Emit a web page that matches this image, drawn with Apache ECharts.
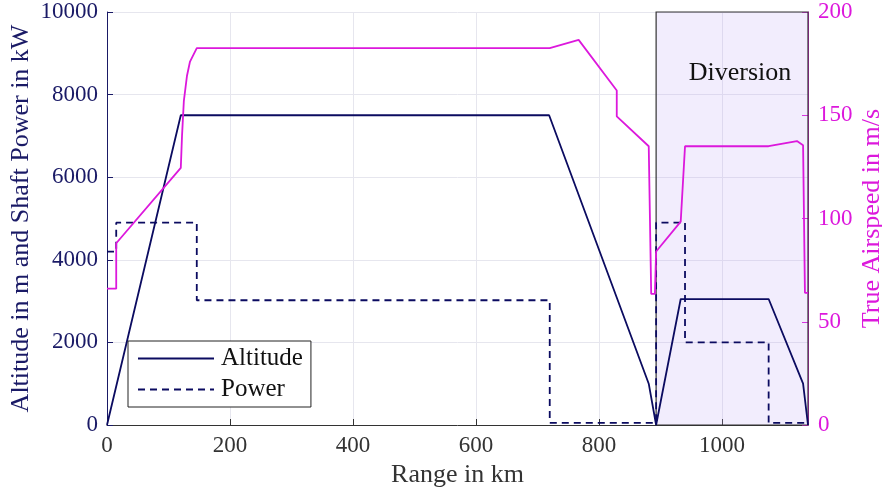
<!DOCTYPE html>
<html style="height: 100%">
<head>
<meta charset="utf-8">
<script src="https://cdn.jsdelivr.net/npm/echarts@6/dist/echarts.min.js"></script>
<title>Mission profile</title>
</head>
<body style="height: 100%; margin: 0; background: #fff">
<div id="container" style="width: 882px; height: 490px"></div>
<script type="text/javascript">

// range in km and the values
const altitudeRange = [0, 120, 719, 881, 893, 933, 1076, 1132, 1140];
const altitudeValues = [0, 7500, 7500, 1000, 0, 3050, 3050, 1000, 0];

const powerRange = [0, 15, 15, 146, 146, 720, 720, 893, 893, 940, 940, 1076, 1076, 1140];
const powerValues = [4200, 4200, 4900, 4900, 3020, 3020, 50, 50, 4900, 4900, 2000, 2000, 50, 50];

const speedRange = [0, 15, 15, 120, 122, 125, 130, 135, 146, 720, 767, 829, 829, 881, 885, 891, 893, 893, 933, 940, 1076, 1122, 1132, 1135, 1140];
const speedValues = [66, 66, 88, 124.5, 140, 157, 169, 176, 182.5, 182.5, 186.5, 162, 149.5, 135, 63.5, 63.5, 63.5, 84, 98.5, 135, 135, 137.5, 135.5, 64, 64];

const diversionStart = 893;
const rangeMax = 1140;

const navy = '#0b0b60';
const axisNavy = '#1a1a66';
const magenta = '#dc18dc';
const serif = '"Liberation Serif", "DejaVu Serif", serif';

function pairs(xs, ys) {
  return xs.map(function (x, i) { return [x, ys[i]]; });
}

function plain(v) {
  return String(v);
}

let chart = echarts.init(document.getElementById('container'));

chart.setOption({
  animation: false,
  textStyle: { fontFamily: serif },
  grid: { left: 107, right: 74, top: 12, bottom: 65, containLabel: false, outerBoundsMode: 'none' },
  legend: {
    data: ['Altitude', 'Power'],
    orient: 'vertical',
    left: 128,
    top: 341,
    itemWidth: 76,
    itemHeight: 14,
    itemGap: 6,
    padding: [5, 8, 5, 9],
    borderColor: '#222',
    borderWidth: 1,
    borderRadius: 0,
    backgroundColor: '#fff',
    itemStyle: { opacity: 0 },
    textStyle: { fontFamily: serif, fontSize: 25, color: '#111', padding: [0, 0, 0, 2] }
  },
  xAxis: {
    type: 'value',
    min: 0,
    max: rangeMax,
    interval: 200,
    name: 'Range in km',
    nameLocation: 'middle',
    nameGap: 36,
    nameTextStyle: { fontFamily: serif, fontSize: 26, color: '#333' },
    axisLine: { lineStyle: { color: '#333' } },
    axisTick: { inside: true, length: 6, lineStyle: { color: '#333' } },
    axisLabel: { fontFamily: serif, fontSize: 23, color: '#333', margin: 9, showMaxLabel: false, formatter: plain },
    splitLine: { show: true, lineStyle: { color: '#e6e6ee' } }
  },
  yAxis: [
    {
      type: 'value',
      min: 0,
      max: 10000,
      interval: 2000,
      name: 'Altitude in m and Shaft Power in kW',
      nameLocation: 'middle',
      nameGap: 73,
      nameMoveOverlap: false,
      nameTextStyle: { fontFamily: serif, fontSize: 26, color: axisNavy },
      axisLine: { show: true, lineStyle: { color: axisNavy } },
      axisTick: { show: true, inside: true, length: 6, lineStyle: { color: axisNavy } },
      axisLabel: { fontFamily: serif, fontSize: 23, color: axisNavy, margin: 9, formatter: plain },
      splitLine: { show: true, lineStyle: { color: '#e6e6ee' } }
    },
    {
      type: 'value',
      min: 0,
      max: 200,
      interval: 50,
      position: 'right',
      name: 'True Airspeed in m/s',
      nameLocation: 'middle',
      nameGap: 51,
      nameMoveOverlap: false,
      nameTextStyle: { fontFamily: serif, fontSize: 26, color: magenta },
      axisLine: { show: true, lineStyle: { color: magenta } },
      axisTick: { show: true, inside: true, length: 6, lineStyle: { color: magenta } },
      axisLabel: { fontFamily: serif, fontSize: 23, color: magenta, margin: 10, formatter: plain },
      splitLine: { show: false }
    }
  ],
  series: [
    {
      name: 'diversion',
      type: 'line',
      data: [],
      markArea: {
        silent: true,
        itemStyle: { color: 'rgba(190, 165, 245, 0.2)', borderColor: '#333', borderWidth: 1.2 },
        label: {
          show: true,
          position: 'insideTop',
          distance: 49,
          offset: [8, 0],
          fontFamily: serif,
          fontSize: 26,
          color: '#111'
        },
        data: [[{ name: 'Diversion', xAxis: diversionStart }, { xAxis: rangeMax }]]
      }
    },
    {
      name: 'Altitude',
      type: 'line',
      symbol: 'none',
      z: 3,
      color: navy,
      lineStyle: { color: navy, width: 1.8 },
      data: pairs(altitudeRange, altitudeValues)
    },
    {
      name: 'Power',
      type: 'line',
      symbol: 'none',
      z: 3,
      color: navy,
      lineStyle: { color: navy, width: 1.8, type: [7, 5] },
      data: pairs(powerRange, powerValues)
    },
    {
      name: 'Airspeed',
      type: 'line',
      yAxisIndex: 1,
      symbol: 'none',
      z: 3,
      color: magenta,
      lineStyle: { color: magenta, width: 1.8 },
      data: pairs(speedRange, speedValues)
    }
  ]
});

</script>
</body>
</html>
